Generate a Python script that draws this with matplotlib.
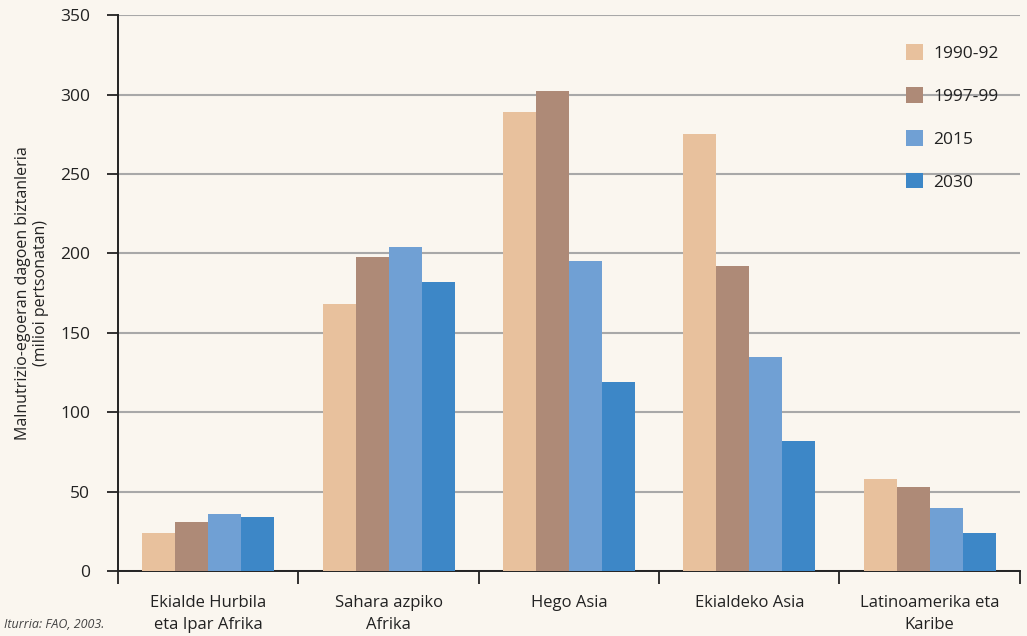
import numpy as np
import matplotlib.pyplot as plt

# datuak
eskualdeak = ["Ekialde Hurbila\neta Ipar Afrika", "Sahara azpiko\nAfrika", "Hego Asia",
              "Ekialdeko Asia", "Latinoamerika eta\nKaribe"]
urteak = ["1990-92", "1997-99", "2015", "2030"]
v_1990 = [24, 168, 289, 275, 58]
v_1997 = [31, 198, 302, 192, 53]
v_2015 = [36, 204, 195, 135, 40]
v_2030 = [34, 182, 119, 82, 24]
koloreak = ["#e8c19d", "#ae8a77", "#70a0d4", "#3d87c7"]
yticks = [0, 50, 100, 150, 200, 250, 300, 350]

bg = "#faf6ef"
plt.rcParams['font.family'] = ['Open Sans', 'DejaVu Sans']

fig = plt.figure(figsize=(10.27, 6.36), dpi=100, facecolor=bg)
ax = fig.add_axes([0.115, 0.102, 0.878, 0.874], facecolor=bg)

x = np.arange(len(eskualdeak))
w = 0.183
serieak = [v_1990, v_1997, v_2015, v_2030]
for k, (izena, balioak, kol) in enumerate(zip(urteak, serieak, koloreak)):
    ax.bar(x + (k - 1.5) * w, balioak, width=w, color=kol, label=izena,
           linewidth=0, zorder=3)

ax.set_xlim(-0.5, len(eskualdeak) - 0.5)
ax.set_ylim(0, 350)
ax.set_yticks(yticks)
ax.yaxis.grid(True, color="#a8a8a8", linewidth=1.5, zorder=0)
ax.set_axisbelow(True)

# x ardatza: marrak taldeen artean, etiketak erdian
ax.set_xticks(np.arange(-0.5, len(eskualdeak)), minor=False)
ax.set_xticklabels([])
ax.set_xticks(x, minor=True)
ax.set_xticklabels(eskualdeak, minor=True, fontsize=12, color="#222222",
                   linespacing=1.5)
ax.tick_params(axis="x", which="major", length=9, width=1.3, color="#222222")
ax.tick_params(axis="x", which="minor", length=0, pad=17)
ax.tick_params(axis="y", length=8, width=1.3, color="#222222", pad=12,
               labelsize=12.5, labelcolor="#222222")

for s in ["top", "right"]:
    ax.spines[s].set_visible(False)
for s in ["left", "bottom"]:
    ax.spines[s].set_color("#222222")
    ax.spines[s].set_linewidth(1.4)

ax.set_ylabel("Malnutrizio-egoeran dagoen biztanleria\n(milioi pertsonatan)",
              fontsize=11.5, color="#222222", labelpad=8)

ax.legend(loc="upper left", bbox_to_anchor=(0.856, 0.976), frameon=False,
          fontsize=12.5, handlelength=1.0, handleheight=1.0,
          labelspacing=1.45, handletextpad=0.6, labelcolor="#222222")

fig.text(0.004, 0.013, "Iturria: FAO, 2003.", fontsize=9, style="italic",
         color="#444444")

fig.savefig("out.png", dpi=100, facecolor=bg)
plt.close()
